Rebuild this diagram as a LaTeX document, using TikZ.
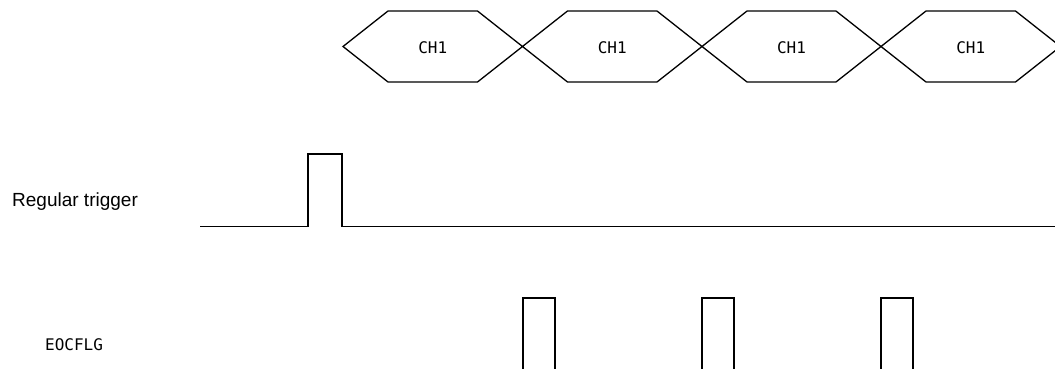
\documentclass[tikz,border=0pt]{standalone}
\usepackage{fontspec}
\setmainfont{Liberation Sans}
\newfontfamily\chfont{DejaVu Sans Mono}
\usepackage{tikz}
\usetikzlibrary{positioning}
\tikzset{
  wave/.style={draw=black,line width=1.3pt,line join=miter},
  siglabel/.style={inner sep=0pt,anchor=base west,
    font=\fontsize{19}{21}\selectfont},
  chlabel/.style={inner sep=0pt,font=\chfont\fontsize{16}{18}\selectfont},
}

\begin{document}
\begin{tikzpicture}[x=1pt,y=-1pt]
\useasboundingbox (0,0) rectangle (1055,369);
\clip (0,0) rectangle (1055,369);

% conversion slots
\draw[wave] (343,46.5) -- (388,11) -- (477.5,11) -- (522.5,46.5) -- (477.5,82) -- (388,82) -- cycle;
\draw[wave] (522.5,46.5) -- (567.5,11) -- (657,11) -- (702,46.5) -- (657,82) -- (567.5,82) -- cycle;
\draw[wave] (702,46.5) -- (747,11) -- (836,11) -- (881,46.5) -- (836,82) -- (747,82) -- cycle;
\draw[wave] (881,46.5) -- (926,11) -- (1015.5,11) -- (1060.5,46.5) -- (1015.5,82) -- (926,82) -- cycle;
\node[chlabel] (slot1) at (432.75,47.5) {CH1};
\node[chlabel] (slot2) at (612.25,47.5) {CH1};
\node[chlabel] (slot3) at (791.5,47.5)  {CH1};
\node[chlabel] (slot4) at (970.75,47.5) {CH1};

% regular trigger
\node[siglabel] (trig) at (12,206) {Regular trigger};
\draw[wave] (200,226.5) -- (308,226.5) -- (308,154) -- (342,154) -- (342,226.5) -- (1056,226.5);

% end of conversion flag
\node[siglabel,font=\chfont\fontsize{16}{18}\selectfont] (eoc) at (45,350) {EOCFLG};
\draw[wave] (523,380) -- (523,298) -- (555,298) -- (555,380);
\draw[wave] (702,380) -- (702,298) -- (734,298) -- (734,380);
\draw[wave] (881,380) -- (881,298) -- (913,298) -- (913,380);

\end{tikzpicture}
\end{document}
